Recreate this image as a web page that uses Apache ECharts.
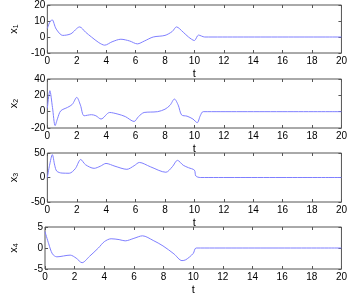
<!DOCTYPE html>
<html><head><meta charset="utf-8">
<script src="https://cdn.jsdelivr.net/npm/echarts@6/dist/echarts.min.js"></script>
<style>html,body{margin:0;padding:0;background:#fff}#c{width:350px;height:296px}</style>
</head><body><div id="c"></div>
<script>
// x1 panel
var t1 = [0,0.15,0.32,0.6,1.05,1.6,2.2,2.6,3.0,3.5,3.9,4.4,5.0,5.6,6.12,6.6,7.2,8.0,8.5,8.78,9.24,9.6,10.0,10.28,10.7,20];
var x1 = [5.3,9,10.8,5,1,2,6.3,3,0,-3.5,-5.1,-3,-1.4,-2.5,-4.3,-2.5,0,1,3.5,6.3,3,0,-2.2,1.2,0,0];
// x2 panel
var t2 = [0,0.17,0.35,0.53,0.7,0.91,1.38,1.7,2.0,2.25,2.5,3.0,3.3,3.65,4.24,4.8,5.3,5.9,6.2,6.58,7.0,7.5,8.0,8.35,8.64,8.9,9.13,9.5,9.9,10.19,10.4,10.6,20];
var x2 = [4,25.7,5,-17,-8,1,5.3,9,17.5,8,-5,-3.7,-5,-9,-1,-3,-6,-12,-6,-1,-0.5,0,3,8,15.5,8,-4,-5.5,-9,-13.5,-5,0,0];
// x3 panel
var t3 = [0,0.15,0.34,0.5,0.64,1.0,1.49,1.9,2.27,2.6,3.18,3.6,3.99,4.6,5.41,5.9,6.26,7.0,8.06,8.5,8.85,9.24,9.6,10.0,10.1,10.4,20];
var x3 = [0,25,46.7,25,13,9,8.7,18,36.7,26,18.7,23,28.7,23,16.7,24,30.7,22,10.7,22,35,25,20,15,3,0,0];
// x4 panel
var t4 = [0,0.25,0.5,0.8,1.7,2.1,2.5,3.0,3.6,4.0,4.46,5.0,5.41,6.0,6.58,7.3,7.96,8.7,9.24,9.5,10.0,10.2,20];
var x4 = [3.9,1,-1.4,-2.1,-1.7,-2.4,-3.5,-2.0,0,1.5,2.2,2.0,1.7,2.3,2.9,1.8,0.5,-1.4,-3,-2.8,-1.3,0,0];

var yRanges = [[-10,20,10],[-20,40,20],[-50,50,50],[-5,5,5]];
var names = ['1','2','3','4'];
var ts = [t1,t2,t3,t4], xs = [x1,x2,x3,x4];

var tops = [4,79,153,227];
var font = 'Liberation Sans, Arial, sans-serif';
var axCol = '#555';
var grids = [], xAxes = [], yAxes = [], series = [];
for (var i = 0; i < 4; i++) {
  grids.push({left:30, right:5, top:tops[i], height:49, show:true, borderColor:axCol, borderWidth:1, backgroundColor:'#fff'});
  var xBase = {gridIndex:i, type:'value', min:0, max:20, interval:2,
    axisLine:{show:false, onZero:false}, splitLine:{show:false},
    axisTick:{inside:true, length:3, lineStyle:{color:axCol}}};
  xAxes.push(Object.assign({}, xBase, {position:'bottom', name:'t', nameLocation:'middle', nameGap:15,
    nameTextStyle:{fontFamily:font, fontSize:11, color:'#000'},
    axisLabel:{fontFamily:font, fontSize:10, color:'#000', margin:3}}));
  xAxes.push(Object.assign({}, xBase, {position:'top', axisLabel:{show:false}}));
  var r = yRanges[i];
  var yBase = {gridIndex:i, type:'value', min:r[0], max:r[1], interval:r[2],
    axisLine:{show:false, onZero:false}, splitLine:{show:false},
    axisTick:{inside:true, length:3, lineStyle:{color:axCol}}};
  yAxes.push(Object.assign({}, yBase, {position:'left', name:'x{s|'+names[i]+'}', nameLocation:'middle', nameGap:25, nameRotate:90,
    nameTextStyle:{fontFamily:font, fontSize:11, color:'#000', rich:{s:{fontFamily:font, fontSize:7, color:'#000', verticalAlign:'bottom', padding:[6,0,0,0]}}},
    axisLabel:{fontFamily:font, fontSize:10, color:'#000', margin:2}}));
  yAxes.push(Object.assign({}, yBase, {position:'right', axisLabel:{show:false}}));
  var d = [];
  for (var k = 0; k < ts[i].length; k++) d.push([ts[i][k], xs[i][k]]);
  series.push({type:'line', xAxisIndex:2*i, yAxisIndex:2*i, data:d, smooth:0.3, showSymbol:false,
    lineStyle:{color:'#7f7fff', width:1}, silent:true, animation:false});
}
var chart = echarts.init(document.getElementById('c'), null, {renderer:'canvas'});
chart.setOption({animation:false, backgroundColor:'#fff', grid:grids, xAxis:xAxes, yAxis:yAxes, series:series});
</script></body></html>
